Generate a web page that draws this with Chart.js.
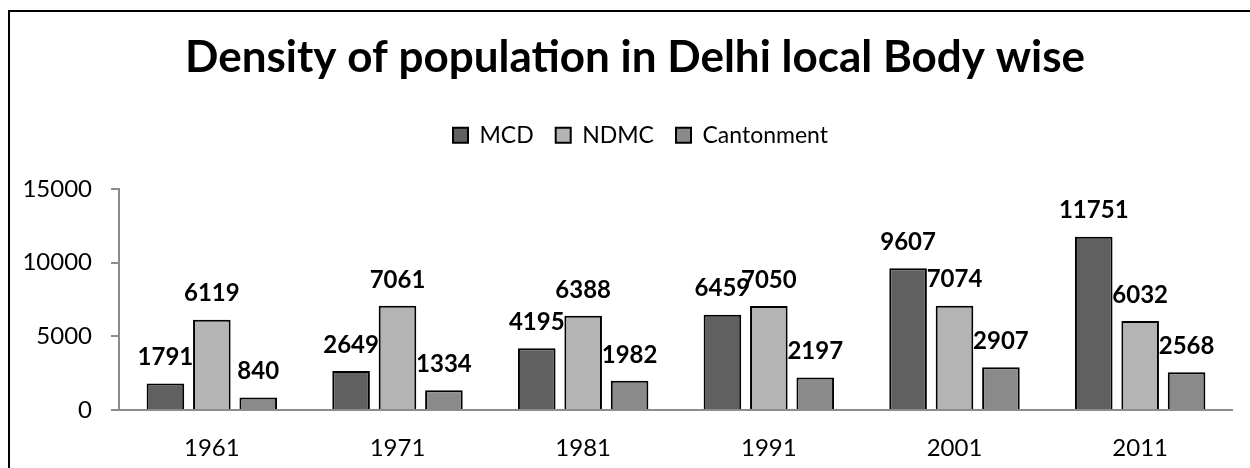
<!DOCTYPE html>
<html>
<head>
<meta charset="utf-8">
<title>Density of population in Delhi local Body wise</title>
<script src="https://cdn.jsdelivr.net/npm/chart.js@4.4.1/dist/chart.umd.min.js"></script>
<style>
  html, body { margin: 0; padding: 0; background: #fff; overflow: hidden; }
  #wrap { position: relative; width: 1250px; height: 468px; overflow: hidden; }
  #frame {
    position: absolute; left: 8px; top: 10px; width: 1400px; height: 600px;
    border-top: 2px solid #000; border-left: 2px solid #000;
  }
  #chartContainer { position: absolute; left: 0; top: 0; width: 1233px; height: 468px; }
</style>
</head>
<body>
<div id="wrap">
  <div id="frame"></div>
  <div id="chartContainer"><canvas id="myChart"></canvas></div>
</div>
<script>
"use strict";

const years = ["1961", "1971", "1981", "1991", "2001", "2011"];
const mcd = [1791, 2649, 4195, 6459, 9607, 11751];
const ndmc = [6119, 7061, 6388, 7050, 7074, 6032];
const cantonment = [840, 1334, 1982, 2197, 2907, 2568];
const yTicks = [0, 5000, 10000, 15000];

Chart.defaults.font.family = "Lato, 'Open Sans', sans-serif";
Chart.defaults.color = "#000";

// numbers drawn above each bar
const barValues = {
  id: "barValues",
  afterDatasetsDraw(chart) {
    const ctx = chart.ctx;
    ctx.save();
    ctx.font = "bold 24px Lato, sans-serif";
    ctx.fillStyle = "#000";
    ctx.textAlign = "center";
    ctx.textBaseline = "middle";
    chart.data.datasets.forEach(function (ds, i) {
      const meta = chart.getDatasetMeta(i);
      meta.data.forEach(function (bar, j) {
        ctx.fillText(ds.data[j], bar.x, bar.y - 26);
      });
    });
    ctx.restore();
  }
};

// extra room between the legend and the plot,
// and nudge title + legend right (the frame is wider than the plot)
const headerTweaks = {
  id: "headerTweaks",
  beforeInit(chart) {
    const fit = chart.legend.fit;
    chart.legend.fit = function () {
      fit.bind(chart.legend)();
      this.height += 32;
    };
  },
  afterLayout(chart) {
    chart.titleBlock.left += 37;
    chart.legend.left += 48;
  }
};

function makeSet(label, data, color) {
  return {
    label: label,
    data: data,
    backgroundColor: color,
    borderColor: "#000",
    borderWidth: 2,
    categoryPercentage: 0.75,
    barPercentage: 0.81
  };
}

const chartConfig = {
  type: "bar",
  data: {
    labels: years,
    datasets: [
      makeSet("MCD", mcd, "#606060"),
      makeSet("NDMC", ndmc, "#b4b4b4"),
      makeSet("Cantonment", cantonment, "#8a8a8a")
    ]
  },
  options: {
    responsive: true,
    maintainAspectRatio: false,
    animation: false,
    layout: { padding: 0 },
    plugins: {
      title: {
        display: true,
        text: "Density of population in Delhi local Body wise",
        font: { size: 44, weight: "bold" },
        color: "#000",
        padding: { top: 31, bottom: 18 }
      },
      legend: {
        display: true,
        position: "top",
        labels: {
          font: { size: 23 },
          boxWidth: 15,
          boxHeight: 15,
          padding: 22,
          color: "#000"
        }
      },
      tooltip: { enabled: false }
    },
    scales: {
      x: {
        grid: { display: false },
        border: { display: true, color: "#8c8c8c", width: 2 },
        ticks: { font: { size: 24 }, padding: 16, color: "#000" },
        afterFit(scale) { scale.height = 58; }
      },
      y: {
        min: 0,
        max: 15000,
        afterBuildTicks(scale) {
          scale.ticks = yTicks.map(v => ({ value: v }));
        },
        grid: { drawOnChartArea: false, drawTicks: true, tickLength: 8, color: "#8c8c8c", lineWidth: 2 },
        border: { display: true, color: "#8c8c8c", width: 2 },
        ticks: {
          font: { size: 24 },
          padding: 19,
          color: "#000",
          callback: function (value) { return String(value); }
        },
        afterFit(scale) { scale.width = 119; }
      }
    }
  },
  plugins: [barValues, headerTweaks]
};

const canvas = document.getElementById("myChart");
const myChart = new Chart(canvas.getContext("2d"), chartConfig);
</script>
</body>
</html>
